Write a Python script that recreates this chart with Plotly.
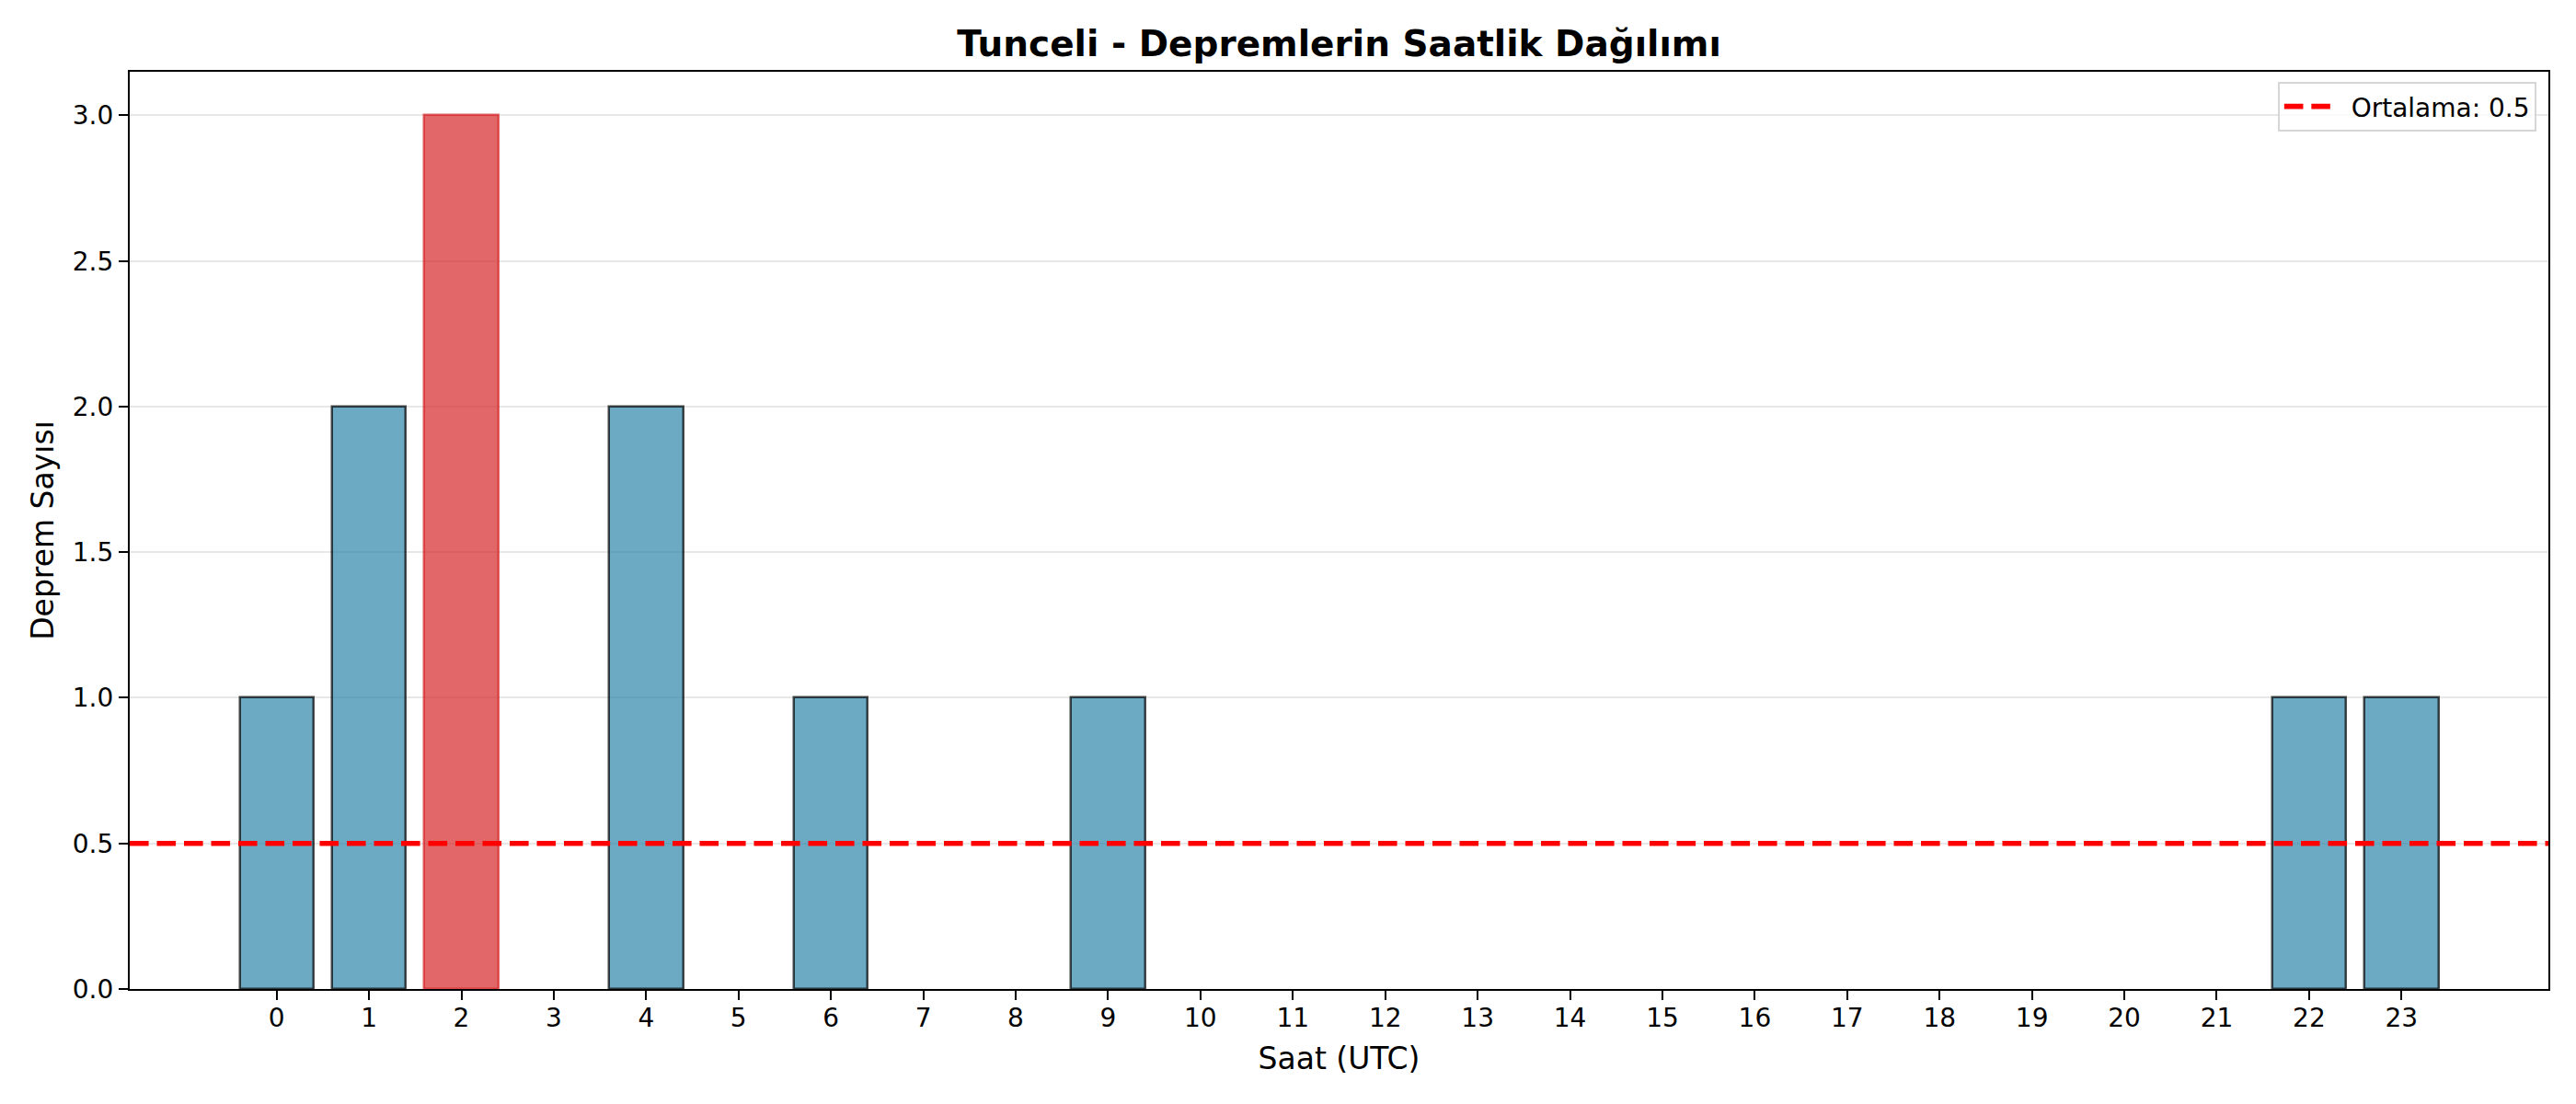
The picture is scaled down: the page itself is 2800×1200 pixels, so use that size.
import plotly.graph_objects as go

# saatlik deprem sayilari (Tunceli)
saatler = list(range(24))
deprem_sayisi = [1, 2, 3, 0, 2, 0, 1, 0, 0, 1, 0, 0, 0, 0, 0, 0, 0, 0, 0, 0, 0, 0, 1, 1]
ortalama = sum(deprem_sayisi) / len(deprem_sayisi)

baslik = "Tunceli - Depremlerin Saatlik Dağılımı"
x_etiket = "Saat (UTC)"
y_etiket = "Deprem Sayısı"
y_tikler = [0.0, 0.5, 1.0, 1.5, 2.0, 2.5, 3.0]

# sayfa body'si 8px kenar boslugu ekliyor, onu hesaba katiyoruz
OFS = 8
W, H = 2800 - 2 * OFS, 1200 - 2 * OFS
L, R, T, B = 141 - OFS, 30 - OFS, 78 - OFS, 125 - OFS
FONT = "DejaVu Sans"

mavi = "rgba(46,134,171,0.7)"
kirmizi = "rgba(214,39,40,0.7)"
max_idx = deprem_sayisi.index(max(deprem_sayisi))
dolgu = [kirmizi if i == max_idx else mavi for i in saatler]
kenar = []
for i, n in zip(saatler, deprem_sayisi):
    if n == 0:
        kenar.append("rgba(0,0,0,0)")  # bos saatlerde cizgi gorunmesin
    elif i == max_idx:
        kenar.append(kirmizi)
    else:
        kenar.append("rgba(0,0,0,0.7)")

fig = go.Figure()
fig.add_trace(go.Bar(
    x=saatler, y=deprem_sayisi, width=0.8,
    marker=dict(color=dolgu, line=dict(color=kenar, width=2.5)),
    showlegend=False,
))
# ortalama cizgisi
cizgi = dict(color="#ff0000", width=5.6, dash="20.6px,8.9px")
fig.add_hline(y=ortalama, line=cizgi, layer="above")
fig.add_trace(go.Scatter(
    x=[None], y=[None], mode="lines", name=f"\u00a0\u00a0Ortalama: {ortalama:.1f}", line=cizgi,
))

fig.update_layout(
    width=W, height=H,
    margin=dict(l=L, r=R, t=T, b=B, pad=0),
    paper_bgcolor="white", plot_bgcolor="white",
    font=dict(family=FONT, size=28, color="black"),
    title=dict(text=f"<b>{baslik}</b>", font=dict(size=39, family=FONT, color="black"),
               x=(L + (W - R - L) / 2) / W, xanchor="center",
               y=1 - (47 - OFS) / H, yanchor="middle", yref="container"),
    legend=dict(x=0.995, y=0.989, xanchor="right", yanchor="top",
                bgcolor="rgba(255,255,255,0.8)", bordercolor="#d6d6d6", borderwidth=2,
                itemwidth=50, font=dict(size=28, family=FONT)),
    bargap=0,
)
fig.update_xaxes(
    range=[-1.59, 24.59], tickmode="array", tickvals=saatler, ticktext=[str(s) for s in saatler],
    showgrid=False, zeroline=False,
    showline=True, linecolor="black", linewidth=2.2, mirror=True,
    ticks="outside", ticklen=10, tickwidth=2.2, tickcolor="black",
    tickfont=dict(size=28, family=FONT), ticklabelstandoff=-5,
    title=dict(text=x_etiket, font=dict(size=33, family=FONT), standoff=17),
    layer="above traces",
)
fig.update_yaxes(
    range=[0, 3.15], tickmode="array", tickvals=y_tikler, ticktext=[f"{v:.1f}" for v in y_tikler],
    showgrid=True, gridcolor="rgba(176,176,176,0.3)", gridwidth=2.2, zeroline=False,
    showline=True, linecolor="black", linewidth=2.2, mirror=True,
    ticks="outside", ticklen=10, tickwidth=2.2, tickcolor="black",
    tickfont=dict(size=28, family=FONT),
    title=dict(text=y_etiket, font=dict(size=33, family=FONT), standoff=10),
    layer="above traces",
)

fig.write_html("out.html")
